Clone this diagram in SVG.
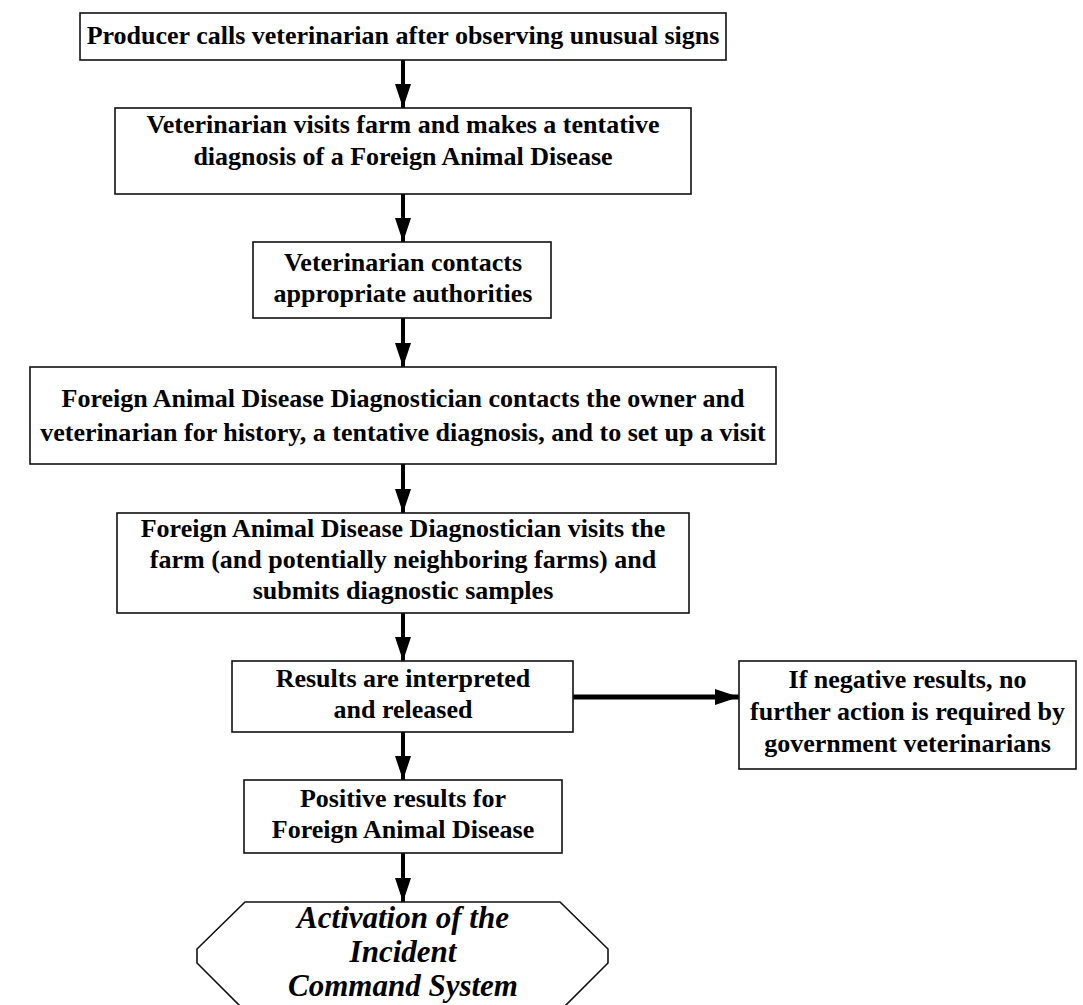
<svg xmlns="http://www.w3.org/2000/svg" width="1083" height="1005" viewBox="0 0 1083 1005">
<defs>
<style>
.box{fill:#fff;stroke:#111;stroke-width:1.6}
.t{font-family:"Liberation Serif","Times New Roman",serif;font-weight:bold;font-size:26px;fill:#000;text-anchor:middle}
.ti{font-family:"Liberation Serif","Times New Roman",serif;font-weight:bold;font-style:italic;font-size:31px;fill:#000;text-anchor:middle}
.c{stroke:#000;stroke-width:4;fill:none}
.ch{stroke:#000;stroke-width:5;fill:none}
</style>
<marker id="ah" viewBox="0 0 24 16" refX="24" refY="8" markerWidth="24" markerHeight="16" markerUnits="userSpaceOnUse" orient="auto">
<path d="M0,0 L24,8 L0,16 z" fill="#000"/>
</marker>
</defs>
<rect width="1083" height="1005" fill="#fff"/>
<g id="connectors">
<line class="c" x1="403" y1="60" x2="403" y2="108" marker-end="url(#ah)"/>
<line class="c" x1="403" y1="194" x2="403" y2="242" marker-end="url(#ah)"/>
<line class="c" x1="403" y1="318" x2="403" y2="367" marker-end="url(#ah)"/>
<line class="c" x1="403" y1="464" x2="403" y2="513" marker-end="url(#ah)"/>
<line class="c" x1="403" y1="613" x2="403" y2="661" marker-end="url(#ah)"/>
<line class="c" x1="403" y1="732" x2="403" y2="780" marker-end="url(#ah)"/>
<line class="c" x1="403" y1="853" x2="403" y2="902" marker-end="url(#ah)"/>
<line class="ch" x1="573" y1="697" x2="739" y2="697" marker-end="url(#ah)"/>
</g>
<g id="n1">
<rect class="box" x="80" y="13" width="646" height="47"/>
<text class="t" x="403" y="44">Producer calls veterinarian after observing unusual signs</text>
</g>
<g id="n2">
<rect class="box" x="115" y="108" width="576" height="86"/>
<text class="t" x="403" y="133">Veterinarian visits farm and makes a tentative</text>
<text class="t" x="403" y="165">diagnosis of a Foreign Animal Disease</text>
</g>
<g id="n3">
<rect class="box" x="253" y="242" width="298" height="76"/>
<text class="t" x="403" y="271">Veterinarian contacts</text>
<text class="t" x="403" y="302">appropriate authorities</text>
</g>
<g id="n4">
<rect class="box" x="30" y="367" width="746" height="97"/>
<text class="t" x="403" y="407">Foreign Animal Disease Diagnostician contacts the owner and</text>
<text class="t" x="403" y="441">veterinarian for history, a tentative diagnosis, and to set up a visit</text>
</g>
<g id="n5">
<rect class="box" x="117" y="513" width="572" height="100"/>
<text class="t" x="403" y="537">Foreign Animal Disease Diagnostician visits the</text>
<text class="t" x="403" y="568">farm (and potentially neighboring farms) and</text>
<text class="t" x="403" y="599">submits diagnostic samples</text>
</g>
<g id="n6">
<rect class="box" x="232" y="661" width="341" height="71"/>
<text class="t" x="403" y="687">Results are interpreted</text>
<text class="t" x="403" y="718">and released</text>
</g>
<g id="n7">
<rect class="box" x="739" y="661" width="337" height="108"/>
<text class="t" x="907.5" y="688">If negative results, no</text>
<text class="t" x="907.5" y="720">further action is required by</text>
<text class="t" x="907.5" y="752">government veterinarians</text>
</g>
<g id="n8">
<rect class="box" x="244" y="780" width="318" height="73"/>
<text class="t" x="403" y="807">Positive results for</text>
<text class="t" x="403" y="838">Foreign Animal Disease</text>
</g>
<g id="n9">
<polygon class="box" points="245,902 560,902 608,949 608,963 560,1011 245,1011 197,963 197,949"/>
<text class="ti" x="403" y="928">Activation of the</text>
<text class="ti" x="403" y="962">Incident</text>
<text class="ti" x="403" y="996">Command System</text>
</g>
</svg>
